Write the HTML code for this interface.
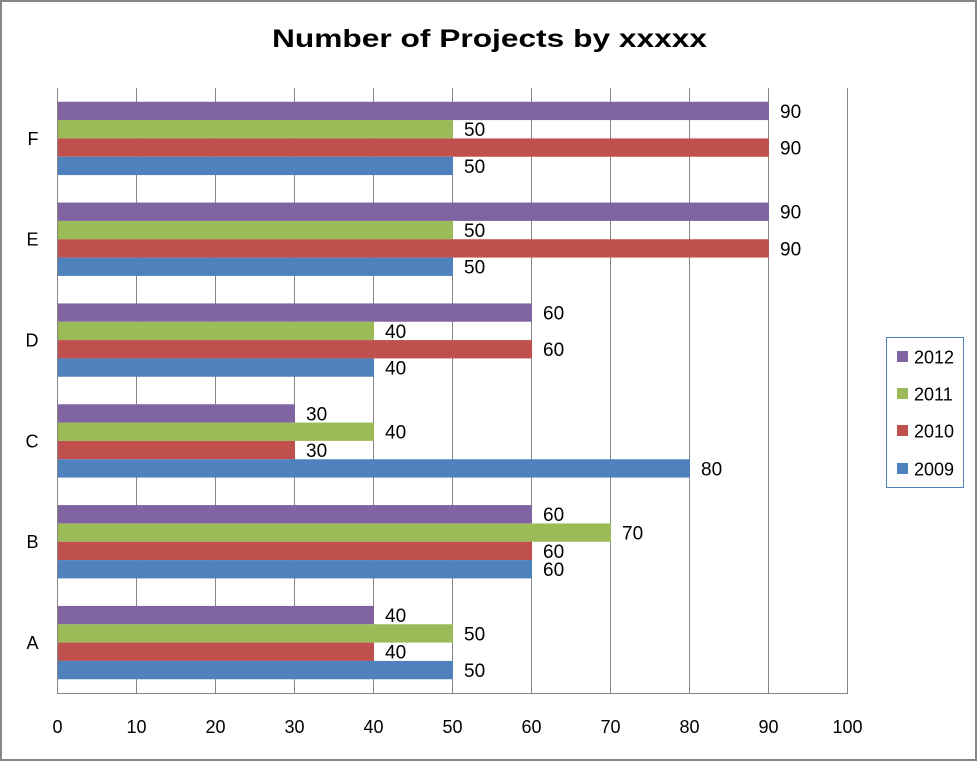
<!DOCTYPE html>
<html>
<head>
<meta charset="utf-8">
<style>
html,body{margin:0;padding:0;background:#fff;}
svg{display:block;}
text{font-family:"Liberation Sans",Arial,sans-serif;fill:#000;}
</style>
</head>
<body>
<svg width="978" height="761" viewBox="0 0 978 761" xmlns="http://www.w3.org/2000/svg">
<rect x="1" y="1" width="975" height="759" fill="#fff" stroke="#868686" stroke-width="2"/>
<text x="489.5" y="47" font-size="25" font-weight="bold" text-anchor="middle" textLength="435" lengthAdjust="spacingAndGlyphs">Number of Projects by xxxxx</text>

<g stroke="#868686" stroke-width="1">
<line x1="136.5" y1="88" x2="136.5" y2="693"/>
<line x1="215.5" y1="88" x2="215.5" y2="693"/>
<line x1="294.5" y1="88" x2="294.5" y2="693"/>
<line x1="373.5" y1="88" x2="373.5" y2="693"/>
<line x1="452.5" y1="88" x2="452.5" y2="693"/>
<line x1="531.5" y1="88" x2="531.5" y2="693"/>
<line x1="610.5" y1="88" x2="610.5" y2="693"/>
<line x1="689.5" y1="88" x2="689.5" y2="693"/>
<line x1="768.5" y1="88" x2="768.5" y2="693"/>
<line x1="847.5" y1="88" x2="847.5" y2="693"/>
</g>

<!-- F -->
<rect x="58" y="101.75" width="711" height="18.33" fill="#8064A2"/>
<rect x="58" y="120.08" width="395" height="18.33" fill="#9BBB59"/>
<rect x="58" y="138.42" width="711" height="18.33" fill="#C0504D"/>
<rect x="58" y="156.75" width="395" height="18.33" fill="#4F81BD"/>
<!-- E -->
<rect x="58" y="202.58" width="711" height="18.33" fill="#8064A2"/>
<rect x="58" y="220.92" width="395" height="18.33" fill="#9BBB59"/>
<rect x="58" y="239.25" width="711" height="18.33" fill="#C0504D"/>
<rect x="58" y="257.58" width="395" height="18.33" fill="#4F81BD"/>
<!-- D -->
<rect x="58" y="303.42" width="474" height="18.33" fill="#8064A2"/>
<rect x="58" y="321.75" width="316" height="18.33" fill="#9BBB59"/>
<rect x="58" y="340.08" width="474" height="18.33" fill="#C0504D"/>
<rect x="58" y="358.42" width="316" height="18.33" fill="#4F81BD"/>
<!-- C -->
<rect x="58" y="404.25" width="237" height="18.33" fill="#8064A2"/>
<rect x="58" y="422.58" width="316" height="18.33" fill="#9BBB59"/>
<rect x="58" y="440.92" width="237" height="18.33" fill="#C0504D"/>
<rect x="58" y="459.25" width="632" height="18.33" fill="#4F81BD"/>
<!-- B -->
<rect x="58" y="505.08" width="474" height="18.33" fill="#8064A2"/>
<rect x="58" y="523.42" width="553" height="18.33" fill="#9BBB59"/>
<rect x="58" y="541.75" width="474" height="18.33" fill="#C0504D"/>
<rect x="58" y="560.08" width="474" height="18.33" fill="#4F81BD"/>
<!-- A -->
<rect x="58" y="605.92" width="316" height="18.33" fill="#8064A2"/>
<rect x="58" y="624.25" width="395" height="18.33" fill="#9BBB59"/>
<rect x="58" y="642.58" width="316" height="18.33" fill="#C0504D"/>
<rect x="58" y="660.92" width="395" height="18.33" fill="#4F81BD"/>

<g stroke="#868686" stroke-width="1">
<line x1="57.5" y1="88" x2="57.5" y2="693.5"/>
<line x1="57" y1="693.5" x2="848" y2="693.5"/>
</g>

<g font-size="18">
<!-- data labels -->
<g font-size="19">
<text x="780" y="117.8">90</text>
<text x="464" y="136.2">50</text>
<text x="780" y="154.5">90</text>
<text x="464" y="172.8">50</text>

<text x="780" y="218.6">90</text>
<text x="464" y="237">50</text>
<text x="780" y="255.3">90</text>
<text x="464" y="273.6">50</text>

<text x="543" y="319.5">60</text>
<text x="385" y="337.8">40</text>
<text x="543" y="356.1">60</text>
<text x="385" y="374.5">40</text>

<text x="306" y="420.3">30</text>
<text x="385" y="438.6">40</text>
<text x="306" y="457">30</text>
<text x="701" y="475.3">80</text>

<text x="543" y="521.1">60</text>
<text x="622" y="539.5">70</text>
<text x="543" y="557.8">60</text>
<text x="543" y="576.1">60</text>

<text x="385" y="622">40</text>
<text x="464" y="640.3">50</text>
<text x="385" y="658.6">40</text>
<text x="464" y="677">50</text>
</g>

<!-- category labels -->
<g text-anchor="end">
<text x="38.5" y="144.8">F</text>
<text x="38.5" y="245.6">E</text>
<text x="38.5" y="346.4">D</text>
<text x="38.5" y="447.3">C</text>
<text x="38.5" y="548.1">B</text>
<text x="38.5" y="648.9">A</text>
</g>

<!-- x tick labels -->
<g text-anchor="middle">
<text x="57.5" y="733">0</text>
<text x="136.5" y="733">10</text>
<text x="215.5" y="733">20</text>
<text x="294.5" y="733">30</text>
<text x="373.5" y="733">40</text>
<text x="452.5" y="733">50</text>
<text x="531.5" y="733">60</text>
<text x="610.5" y="733">70</text>
<text x="689.5" y="733">80</text>
<text x="768.5" y="733">90</text>
<text x="847.5" y="733">100</text>
</g>

<!-- legend -->
<rect x="886.5" y="337.5" width="77" height="150" fill="#fff" stroke="#4F81BD" stroke-width="1"/>
<rect x="897" y="351" width="11" height="11" fill="#8064A2"/>
<rect x="897" y="388" width="11" height="11" fill="#9BBB59"/>
<rect x="897" y="425" width="11" height="11" fill="#C0504D"/>
<rect x="897" y="463" width="11" height="11" fill="#4F81BD"/>
<text x="914" y="363.4">2012</text>
<text x="914" y="400.4">2011</text>
<text x="914" y="437.4">2010</text>
<text x="914" y="475.4">2009</text>
</g>
</svg>
</body>
</html>
